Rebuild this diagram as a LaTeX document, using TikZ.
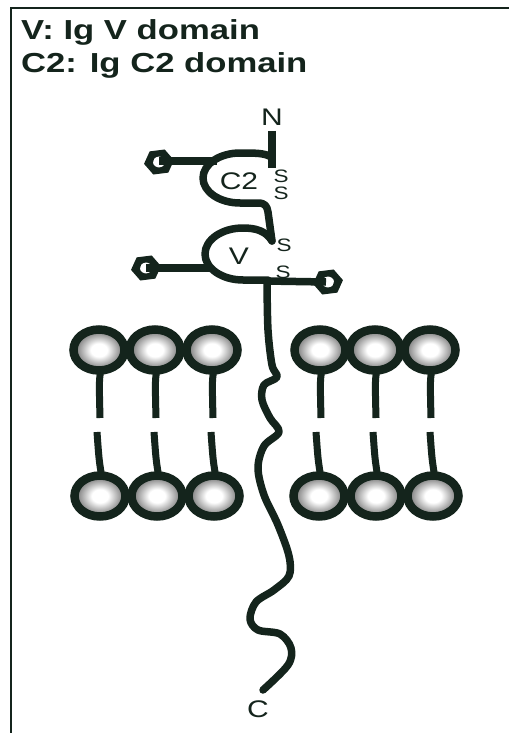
\documentclass[tikz,border=0pt]{standalone}
\usepackage{fontspec}
\setmainfont{Liberation Sans}
\usepackage{graphicx}
\definecolor{ink}{RGB}{20,36,28}
\pgfdeclareradialshading{headshade}{\pgfpoint{0bp}{0bp}}{%
  color(0bp)=(white); color(8bp)=(white); color(21bp)=(black!45);
  color(25bp)=(black!55); color(50bp)=(black!55)}
\newcommand\widetxt[2][1.25]{\scalebox{#1}[1]{#2}}
\begin{document}
\begin{tikzpicture}[x=1pt,y=1pt,
  title/.style={inner sep=0pt, anchor=base west, text=ink,
    font=\fontsize{27.5}{30}\selectfont\bfseries},
  lbl/.style={inner sep=0pt, text=ink, font=\fontsize{24}{26}\selectfont},
  slab/.style={inner sep=0pt, text=ink, font=\fontsize{18}{20}\selectfont},
  backbone/.style={draw=ink, line width=7.5pt, line cap=round, line join=round},
  tail/.style={draw=ink, line width=7pt},
  head/.style={draw=ink, line width=8.5pt, shade, shading=headshade},
  sugar/.pic={\fill[ink, even odd rule, xscale=1.12, rotate=8]
      (0:13.5) -- (60:13.5) -- (120:13.5) -- (180:13.5) -- (240:13.5) -- (300:13.5) -- cycle
      (0,0) circle (5.5);}
]
% canvas and frame
\fill[white] (0,0) rectangle (509,-733);
\useasboundingbox (0,0) rectangle (509,-733);
\draw[ink, line width=2pt] (11,-733) -- (11,-8) -- (509,-8);

% legend
\node[title] (leg1) at (21,-40) {\widetxt[1.26]{V: Ig V domain}};
\node[title] (leg2) at (21,-73) {\widetxt[1.26]{C2: Ig C2 domain}};

% lipid bilayer: upper leaflet
\foreach \x in {99,155,212,320,375,430}{
  \draw[tail] (\x+3,-366) .. controls (\x,-378) .. (\x+1,-418);
  \path[head] (\x,-350) ellipse[x radius=25.5, y radius=20.5];
}
% lipid bilayer: lower leaflet
\foreach \x in {100,157,214,319,376,433}{
  \draw[tail] (\x-3,-432) .. controls (\x-1,-460) .. (\x+2,-478);
  \path[head] (\x,-496) ellipse[x radius=25.5, y radius=20.5];
}

% N-terminal stem
\coordinate (nend) at (272,-131);
\draw[backbone, line cap=butt] (nend) -- (272,-168);
% C2 domain loop and linker to the V domain
\draw[backbone] (271,-157) .. controls (265,-153) and (255,-153) .. (240,-153)
  arc[start angle=90, end angle=270, x radius=37, y radius=25]
  -- (258,-203) .. controls (265,-203) and (267,-206) .. (268,-212)
  -- (272,-241);
% V domain loop
\draw[backbone] (272,-241) .. controls (266,-231) and (256,-228) .. (243,-228)
  arc[start angle=90, end angle=270, x radius=38, y radius=26]
  -- (268,-280);
% glycan side chains
\draw[backbone, line cap=butt] (159,-161) -- (217,-161);
\draw[backbone, line cap=butt] (146,-268) -- (211,-268);
\draw[backbone, line cap=butt] (266,-281) -- (326,-282);
\pic at (159,-162) {sugar};
\pic at (146,-268) {sugar};
\pic at (328,-282) {sugar};

% transmembrane and cytoplasmic tail
\draw[backbone] plot[smooth, tension=0.55] coordinates {
  (267,-281) (268,-330) (272,-365) (277,-377) (264,-385) (262,-400)
  (270,-418) (279,-432) (264,-446) (258,-468) (264,-495) (278,-525)
  (289,-556) (289,-576) (274,-590) (256,-602) (250,-619) (258,-630)
  (280,-634) (291,-648) (288,-665) (263,-690)};

% labels
\node[lbl] (nlab) at (272,-117) {\widetxt{N}};
\node[lbl] (c2lab) at (239,-181) {\widetxt{C2}};
\node[lbl] (vlab) at (239,-256) {\widetxt{V}};
\node[slab] (s1) at (281,-176) {\widetxt{S}};
\node[slab] (s2) at (281,-193) {\widetxt{S}};
\node[slab] (s3) at (284,-245) {\widetxt{S}};
\node[slab] (s4) at (283,-272) {\widetxt{S}};
\node[lbl] (clab) at (258,-709) {\widetxt{C}};
\end{tikzpicture}
\end{document}
